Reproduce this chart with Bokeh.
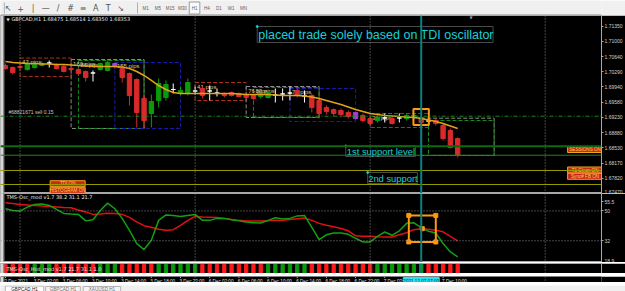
from bokeh.plotting import figure
from bokeh.layouts import column
from bokeh.models import Range1d, FixedTicker, Span, LinearAxis, BoxAnnotation, Label, NumeralTickFormatter
from bokeh.core.properties import value
from bokeh.embed import file_html
from bokeh.resources import INLINE

# ---------------- data (GBPCAD H1, bar index 0 = 2 Dec 2021 22:00) ----------------
bar_open = [1.70437, 1.70391, 1.70414, 1.70344, 1.70391, 1.70437, 1.70495, 1.70437, 1.70414, 1.70367,
            1.70344, 1.70298, 1.70263, 1.70344, 1.70321, 1.70483, 1.70367, 1.70251, 1.70112, 1.69670,
            1.69322, 1.69624, 1.69694, 1.69880, 1.69810, 1.69810, 1.69845, 1.69903, 1.69845, 1.69798,
            1.69787, 1.69810, 1.69787, 1.69763, 1.69740, 1.69717, 1.69694, 1.69752, 1.69775, 1.69798,
            1.69856, 1.69729, 1.69740, 1.69624, 1.69461, 1.69415, 1.69392, 1.69345, 1.69345, 1.69276,
            1.69206, 1.69159, 1.69218, 1.69206, 1.69218, 1.69206, 1.69229, 1.69229, 1.69148, 1.69159,
            1.69043, 1.68927, 1.68741]
bar_high = [1.70483, 1.70414, 1.70460, 1.70553, 1.70507, 1.70530, 1.70553, 1.70483, 1.70460, 1.70391,
            1.70367, 1.70321, 1.70321, 1.70507, 1.70553, 1.70507, 1.70437, 1.70274, 1.70135, 1.69740,
            1.69763, 1.70135, 1.70089, 1.70019, 1.69949, 1.70135, 1.69949, 1.69949, 1.69972, 1.69903,
            1.69810, 1.69833, 1.69810, 1.69787, 1.69763, 1.69810, 1.69833, 1.69903, 1.69903, 1.69949,
            1.69903, 1.69856, 1.69787, 1.69670, 1.69508, 1.69438, 1.69438, 1.69392, 1.69368, 1.69322,
            1.69252, 1.69276, 1.69322, 1.69252, 1.69322, 1.69322, 1.69322, 1.69276, 1.69252, 1.69206,
            1.69090, 1.68974, 1.68764]
bar_low = [1.70344, 1.70228, 1.70367, 1.70321, 1.70367, 1.70414, 1.70391, 1.70344, 1.70274, 1.70298,
           1.70205, 1.70065, 1.70065, 1.70321, 1.70298, 1.70367, 1.70042, 1.69508, 1.68997, 1.68974,
           1.68997, 1.69461, 1.69624, 1.69787, 1.69740, 1.69740, 1.69763, 1.69670, 1.69624, 1.69717,
           1.69694, 1.69717, 1.69694, 1.69670, 1.69624, 1.69670, 1.69670, 1.69577, 1.69624, 1.69624,
           1.69694, 1.69577, 1.69345, 1.69206, 1.69299, 1.69252, 1.69229, 1.69206, 1.69183, 1.69113,
           1.69043, 1.69113, 1.69113, 1.69066, 1.69113, 1.69159, 1.69183, 1.69043, 1.69043, 1.69043,
           1.68695, 1.68509, 1.68300]
bar_close = [1.70367, 1.70274, 1.70391, 1.70483, 1.70460, 1.70483, 1.70495, 1.70367, 1.70298, 1.70344,
             1.70251, 1.70158, 1.70263, 1.70483, 1.70507, 1.70437, 1.70158, 1.69740, 1.69345, 1.69159,
             1.69601, 1.70019, 1.69996, 1.69880, 1.69856, 1.70042, 1.69845, 1.69740, 1.69845, 1.69798,
             1.69740, 1.69740, 1.69717, 1.69694, 1.69670, 1.69787, 1.69810, 1.69752, 1.69775, 1.69798,
             1.69740, 1.69729, 1.69461, 1.69322, 1.69368, 1.69322, 1.69299, 1.69252, 1.69206, 1.69159,
             1.69090, 1.69229, 1.69218, 1.69090, 1.69218, 1.69276, 1.69276, 1.69113, 1.69148, 1.69090,
             1.68741, 1.68532, 1.68353]
signal_bars = [15, 48]
ma_values = [1.70530, 1.70507, 1.70495, 1.70483, 1.70483, 1.70472, 1.70472, 1.70460, 1.70460, 1.70449,
             1.70437, 1.70426, 1.70414, 1.70414, 1.70414, 1.70414, 1.70402, 1.70367, 1.70298, 1.70205,
             1.70089, 1.69972, 1.69880, 1.69810, 1.69787, 1.69787, 1.69787, 1.69787, 1.69787, 1.69787,
             1.69787, 1.69787, 1.69775, 1.69763, 1.69763, 1.69763, 1.69763, 1.69752, 1.69740, 1.69740,
             1.69740, 1.69729, 1.69705, 1.69670, 1.69624, 1.69577, 1.69531, 1.69473, 1.69415, 1.69368,
             1.69322, 1.69299, 1.69276, 1.69264, 1.69252, 1.69241, 1.69229, 1.69206, 1.69171, 1.69136,
             1.69090, 1.69032, 1.68974]
tdi_red = [54.9, 54.4, 53.9, 53.6, 53.3, 52.9, 52.7, 52.4, 52.1, 51.9,
           50.6, 49.4, 47.9, 48.2, 48.6, 48.5, 47.9, 46.1, 43.4, 41.1,
           40.1, 38.9, 38.3, 38.7, 41.3, 44.3, 46.7, 46.4, 46.2, 46.0,
           45.5, 44.8, 44.3, 43.9, 43.9, 43.9, 44.1, 44.3, 44.3, 44.8,
           45.3, 45.7, 44.3, 42.5, 41.4, 40.4, 39.4, 38.0, 35.0, 34.7,
           34.7, 34.4, 34.3, 34.3, 35.6, 36.8, 38.7, 39.3, 38.9, 38.3,
           37.4, 34.7, 32.0]
tdi_green = [51.3, 50.3, 49.9, 52.3, 53.9, 54.2, 53.3, 50.9, 48.5, 48.1,
             47.9, 44.0, 44.7, 50.3, 54.7, 51.3, 45.5, 38.3, 30.3, 26.7,
             32.3, 44.3, 47.6, 47.3, 46.7, 47.3, 47.9, 44.3, 44.3, 45.5,
             45.5, 44.7, 44.0, 43.3, 42.9, 42.7, 44.3, 45.9, 45.2, 45.5,
             47.0, 47.3, 40.1, 32.7, 35.6, 36.7, 36.7, 35.9, 33.5, 31.3,
             31.3, 34.7, 37.3, 35.3, 38.0, 42.5, 42.8, 39.9, 37.7, 36.7,
             30.3, 25.3, 22.3]
hist_dir = (["dn"] * 4 + ["up"] * 3 + ["dn"] * 6 + ["up"] * 3 + ["dn"] * 5 + ["up"] * 6 +
            ["dn"] * 9 + ["up"] * 6 + ["dn"] * 9 + ["up"] * 7 + ["dn"] * 5)
price_ticks = [1.71350, 1.71000, 1.70640, 1.70290, 1.69940, 1.69580, 1.69230,
               1.68880, 1.68530, 1.68170, 1.67820, 1.67470]
osc_ticks = [55.5, 50, 32, 18.9]
osc_levels = [50, 32]
time_ticks = [0, 4, 8, 12, 16, 20, 24, 28, 32, 36, 40, 44, 48, 52, 56, 60]
time_labels = ["2 Dec 2021", "3 Dec 02:00", "3 Dec 06:00", "3 Dec 10:00", "3 Dec 14:00", "3 Dec 18:00",
               "3 Dec 22:00", "6 Dec 02:00", "6 Dec 06:00", "6 Dec 10:00", "6 Dec 14:00", "6 Dec 18:00",
               "6 Dec 22:00", "7 Dec 02:00", "7 Dec 06:00", "7 Dec 10:00"]
day_bars = [2, 26, 50, 74]
cursor_bar = 57
cursor_label = "2021.12.07 07:00"
# session boxes
sess_start = [2, 9, 10, 15, 26, 33, 34, 39, 50, 57, 58]
sess_end = [9, 19, 19, 24, 33, 43, 43, 48, 58, 67, 67]
sess_top = [1.70610, 1.70576, 1.70553, 1.70507, 1.70042, 1.69949, 1.69926, 1.69903, 1.69322, 1.69213, 1.69159]
sess_bottom = [1.70180, 1.68974, 1.68974, 1.68974, 1.69624, 1.69229, 1.69229, 1.69136, 1.68997, 1.68346, 1.68346]
sess_kind = ["asia", "euro", "london", "ny", "asia", "euro", "london", "ny", "asia", "euro", "london"]
sess_label = ["42 pips", "160 pips", "86 pips", "155 pips", "41 pips", "76 pips", "80 pips", "74 pips",
              "31 pips", "", ""]
sell_price = 1.69259
sell_text = "#68821671 sell 0.15"
support_1 = [1.68563, 1.68353]
support_2 = [1.67998, 1.67673]
bid_price = 1.68353
title_text = "GBPCAD,H1  1.68475 1.68514 1.68350 1.68353"
osc_title = "TMS-Osc_mod v1.7 38.2 31.1 21.7"
hist_title = "TMS-Osc_Hist_mod v1.7 21.7 31.1 1.0"
note_text = "placed trade solely based on TDI oscillator"
periods = ["M1", "M5", "M15", "M30", "H1", "H4", "D1", "W1", "MN"]
tabs = ["GBPCAD,H1", "GBPCAD,H1", "XAUUSD,H1"]

# ---------------- geometry helpers (screen placement of chrome / annotations) ----------------
W = 625
BAR_PX = 7.33
X_FIRST = 5.0
RIGHT_AX = 21
FRAME_W = W - RIGHT_AX
x_start = -X_FIRST / BAR_PX
x_end = x_start + FRAME_W / BAR_PX


def bx(sx):
    return (sx - X_FIRST) / BAR_PX


def py(sy):
    return 1.71947 - sy * 0.0002323


def oy(sy):
    return 50 - (sy - 210.5) * 0.6


FONT = "Liberation Sans"
TINY = "Liberation Sans"
RED = "#d82a2a"
GREEN = "#0a9a0a"
GRID = "#8a8a8a"
TEAL = "#0b8080"

xr = Range1d(x_start, x_end)


def base_fig(h, yr, outline="#a8a8a8"):
    f = figure(width=W, height=h, x_range=xr, y_range=yr, output_backend="svg", toolbar_location=None,
               min_border_left=0, min_border_right=RIGHT_AX, min_border_top=0, min_border_bottom=0,
               background_fill_color="black", border_fill_color="black", outline_line_color=outline,
               x_axis_location=None, y_axis_location=None)
    f.grid.visible = False
    f.add_layout(BoxAnnotation(right=bx(3.2), fill_color="#d6d6d6", fill_alpha=1, line_color=None))
    f.add_layout(Span(location=bx(3.5), dimension="height", line_color="#7a7a7a", line_width=1))
    for d in day_bars:
        f.add_layout(Span(location=d, dimension="height", line_color=GRID, line_dash="1 2", line_width=1))
    return f


def right_axis(f, ticks, fmt=None):
    ax = LinearAxis(ticker=FixedTicker(ticks=ticks), major_label_text_font_size="5px",
                    major_label_text_font=TINY, major_label_text_color="#d0d0d0",
                    axis_line_color="#a8a8a8", major_tick_line_color="#a8a8a8",
                    major_tick_out=2, major_tick_in=0, minor_tick_out=0, minor_tick_in=0,
                    major_label_standoff=1)
    if fmt:
        ax.formatter = fmt
    f.add_layout(ax, "right")
    return ax


idx = list(range(len(bar_close)))

# ---------------- toolbar ----------------
tb = figure(width=W, height=15, x_range=Range1d(0, W), y_range=Range1d(0, 15), output_backend="svg",
            toolbar_location=None, min_border=0, background_fill_color="#f0f0f0",
            border_fill_color="#f0f0f0", outline_line_color=None, x_axis_location=None, y_axis_location=None)
tb.grid.visible = False
icons = ["\u2196", "+", "|", "\u2014", "/", "#", "\u2261", "A", "T", "\u2198"]
icon_x = [8 + 13 * k for k in range(len(icons))]
tb.text(x=icon_x, y=[7.5] * len(icons), text=icons, text_font=value("DejaVu Sans"), text_font_size="8px",
        text_color="#555555", text_align="center", text_baseline="middle")
per_x = [151 + 12.7 * k for k in range(len(periods))]
tb.quad(left=[per_x[4] - 5.5], right=[per_x[4] + 5.5], top=[13.5], bottom=[1.5], fill_color="#fafafa",
        line_color="#9a9a9a")
tb.text(x=per_x, y=[7.5] * len(periods), text=periods, text_font=value(TINY), text_font_size="4.5px",
        text_color="#606060", text_align="center", text_baseline="middle")
tb.segment(x0=[142.5, 4], y0=[2, 2], x1=[142.5, 4], y1=[13, 13], line_color="#b0b0b0")
tb.segment(x0=[0], y0=[0.5], x1=[W], y1=[0.5], line_color="#8a8a8a", line_width=1)

# ---------------- main price panel ----------------
main = base_fig(178, Range1d(py(193), py(15)))
right_axis(main, price_ticks, NumeralTickFormatter(format="0.00000"))

sess_colors = {"asia": "#a8321e", "euro": "#8c8c8c", "london": "#1a8a1a", "ny": "#1a1aa8"}
main.quad(left=sess_start, right=sess_end, top=sess_top, bottom=sess_bottom, fill_alpha=0,
          line_color=[sess_colors[k] for k in sess_kind], line_dash="4 2", line_width=1)
main.text(x=sess_start, y=sess_top, text=sess_label, text_font=value(TINY), text_font_size="6px",
          text_color="#d8c89a", text_baseline="top", x_offset=2, y_offset=1)

# horizontal levels
main.add_layout(Span(location=sell_price, dimension="width", line_color="#1a8a1a", line_dash="4 2 1 2"))
main.text(x=[bx(8)], y=[sell_price], text=[sell_text], text_font=value(TINY), text_font_size="5px",
          text_color="#c8c8c8", text_baseline="bottom", y_offset=-1)
main.add_layout(Span(location=support_1[0], dimension="width", line_color="#0b6a0b", line_width=2))
main.add_layout(Span(location=support_1[1], dimension="width", line_color="#1a8a1a", line_width=1))
for lv in support_2:
    main.add_layout(Span(location=lv, dimension="width", line_color="#9a9a00", line_width=1))


# candles
def candle_color(i):
    if i in signal_bars:
        return "#a040d0"
    if bar_close[i] > bar_open[i]:
        return GREEN
    if bar_close[i] < bar_open[i]:
        return RED
    return "#ffffff"


ccol = [candle_color(i) for i in idx]
main.segment(x0=idx, y0=bar_low, x1=idx, y1=bar_high, line_color=ccol, line_width=1)
main.vbar(x=idx, width=0.6, top=[max(o, c) for o, c in zip(bar_open, bar_close)],
          bottom=[min(o, c) for o, c in zip(bar_open, bar_close)], fill_color=ccol, line_color=ccol)
main.line(x=idx, y=ma_values, line_color="#e0a418", line_width=1.5)

# orange selection box on price
main.quad(left=[bx(415)], right=[bx(430.5)], top=[py(108.5)], bottom=[py(124.5)], fill_alpha=0,
          line_color="#ff9a10", line_width=2)

# cursor line
main.add_layout(Span(location=cursor_bar, dimension="height", line_color=TEAL, line_width=2))

# text notes
main.quad(left=[bx(258), bx(347), bx(369)], right=[bx(495), bx(417), bx(419)],
          top=[py(26), py(145.5), py(172)], bottom=[py(42), py(156), py(183)],
          fill_alpha=0, line_color="#4a4a4a", line_width=1)
main.text(x=[bx(259)], y=[py(34.5)], text=[note_text], text_font=value(FONT), text_font_size="12.5px",
          text_color="#18d0d8", text_baseline="middle")
main.text(x=[bx(348), bx(369.5)], y=[py(150.8), py(177.5)], text=["1st support level", "2nd support"],
          text_font=value(FONT), text_font_size="9.4px", text_color="#18d0d8", text_baseline="middle")
main.scatter(x=[bx(258), bx(347), bx(369)], y=[py(26), py(145.5), py(172)], size=2, color="#18d0d8")

# status badges
badge_x = [bx(587.5), bx(587.5), bx(587.5), bx(67.5), bx(67.5)]
badge_y = [py(149), py(169.5), py(175.8), py(183.2), py(189.8)]
badge_t = ["SESSIONS ON", "T1 Clean ON", "Sync# FB ON", "TDI ON", "HISTOGRAM ON"]
main.rect(x=badge_x, y=badge_y, width=35, height=6, width_units="screen", height_units="screen",
          fill_color="#c8281e", line_color="#f0a020", line_width=1)
main.text(x=badge_x, y=badge_y, text=badge_t, text_font=value(TINY), text_font_size="4.6px",
          text_color="#ffd040", text_align="center", text_baseline="middle")

# title
main.text(x=[bx(6), bx(11)], y=[py(18.5)] * 2, text=["\u25bc", title_text], text_font=value("DejaVu Sans"),
          text_font_size=["4px", "5px"], text_color="#e8e8e8", text_baseline="middle")
main.text(x=[bx(473)], y=[py(16.5)], text=["\u25bc"], text_font=value("DejaVu Sans"), text_font_size="4px",
          text_color="#a0a0a0", text_align="center", text_baseline="middle")

main.add_layout(Label(x=x_end, y=bid_price, x_offset=1, text="1.68353", text_font_size="5px",
                      text_font=TINY, text_color="black", background_fill_color="white",
                      text_baseline="middle", padding=0))

# ---------------- oscillator panel ----------------
osc = base_fig(69, Range1d(18.9, oy(193)))
right_axis(osc, osc_ticks)
for lv in osc_levels:
    osc.add_layout(Span(location=lv, dimension="width", line_color=GRID, line_dash="1 2"))
osc.line(x=idx, y=tdi_red, line_color="#e01010", line_width=1.5)
osc.line(x=idx, y=tdi_green, line_color="#12a012", line_width=1.5)
osc.add_layout(Span(location=cursor_bar, dimension="height", line_color=TEAL, line_width=2))
sel_l, sel_r, sel_t, sel_b = 55.3, 59.0, 47.3, 31.3
osc.quad(left=[sel_l], right=[sel_r], top=[sel_t], bottom=[sel_b], fill_alpha=0, line_color="#ff9a10",
         line_width=2)
osc.rect(x=[sel_l, sel_r, sel_l, sel_r, (sel_l + sel_r) / 2], y=[sel_t, sel_t, sel_b, sel_b, (sel_t + sel_b) / 2],
         width=4, height=4, width_units="screen", height_units="screen", fill_color="#ff9a10",
         line_color="#ff9a10")
osc.text(x=[bx(6)], y=[oy(197)], text=[osc_title], text_font=value("DejaVu Sans"), text_font_size="5px",
         text_color="#e8e8e8", text_baseline="middle")

# ---------------- histogram panel ----------------
hist = base_fig(11, Range1d(-0.1, 1.1))
right_axis(hist, [])
hist.vbar(x=idx, width=0.45, top=1, bottom=0,
          color=[GREEN if d == "up" else "#ff1a1a" for d in hist_dir])
hist.add_layout(Span(location=cursor_bar, dimension="height", line_color=TEAL, line_width=2))
hist.text(x=[bx(6)], y=[0.5], text=[hist_title], text_font=value("DejaVu Sans"), text_font_size="5px",
          text_color="#e8e8e8", text_baseline="middle")

# ---------------- time scale ----------------
tfig = base_fig(9, Range1d(0, 9), outline=None)
nt = len(time_ticks)
tfig.segment(x0=time_ticks, y0=[9] * nt, x1=time_ticks, y1=[7.5] * nt, line_color="#a8a8a8")
tfig.text(x=time_ticks, y=[4.5] * nt, text=time_labels, text_font=value(TINY), text_font_size="4.6px",
          text_color="#e0e0e0", text_align="left", text_baseline="middle", x_offset=-1)
tfig.rect(x=[cursor_bar], y=[4.5], width=36, height=7, width_units="screen", height_units="screen",
          fill_color="#20e4f4", line_color="#20e4f4")
tfig.text(x=[cursor_bar], y=[4.5], text=[cursor_label], text_font=value(TINY), text_font_size="4.6px",
          text_color="#103040", text_align="center", text_baseline="middle")

# ---------------- bottom tabs ----------------
tf = figure(width=W, height=9, x_range=Range1d(0, W), y_range=Range1d(0, 9), output_backend="svg",
            toolbar_location=None, min_border=0, background_fill_color="#f0f0f0",
            border_fill_color="#f0f0f0", outline_line_color=None, x_axis_location=None, y_axis_location=None)
tf.grid.visible = False
tab_l = [5, 47, 86]
tab_r = [45, 83, 125]
tf.quad(left=tab_l, right=tab_r, top=[8.5, 8, 8], bottom=[0, 0, 0],
        fill_color=["#ffffff", "#f4f4f4", "#f4f4f4"], line_color="#b4b4b4")
tf.text(x=[(a + b) / 2 for a, b in zip(tab_l, tab_r)], y=[5] * 3, text=tabs, text_font=value(TINY),
        text_font_size="4.6px", text_color=["#202020", "#707070", "#707070"], text_align="center",
        text_baseline="middle")

layout = column(tb, main, osc, hist, tfig, tf, spacing=0)
open("out.html", "w").write(file_html(layout, INLINE))
